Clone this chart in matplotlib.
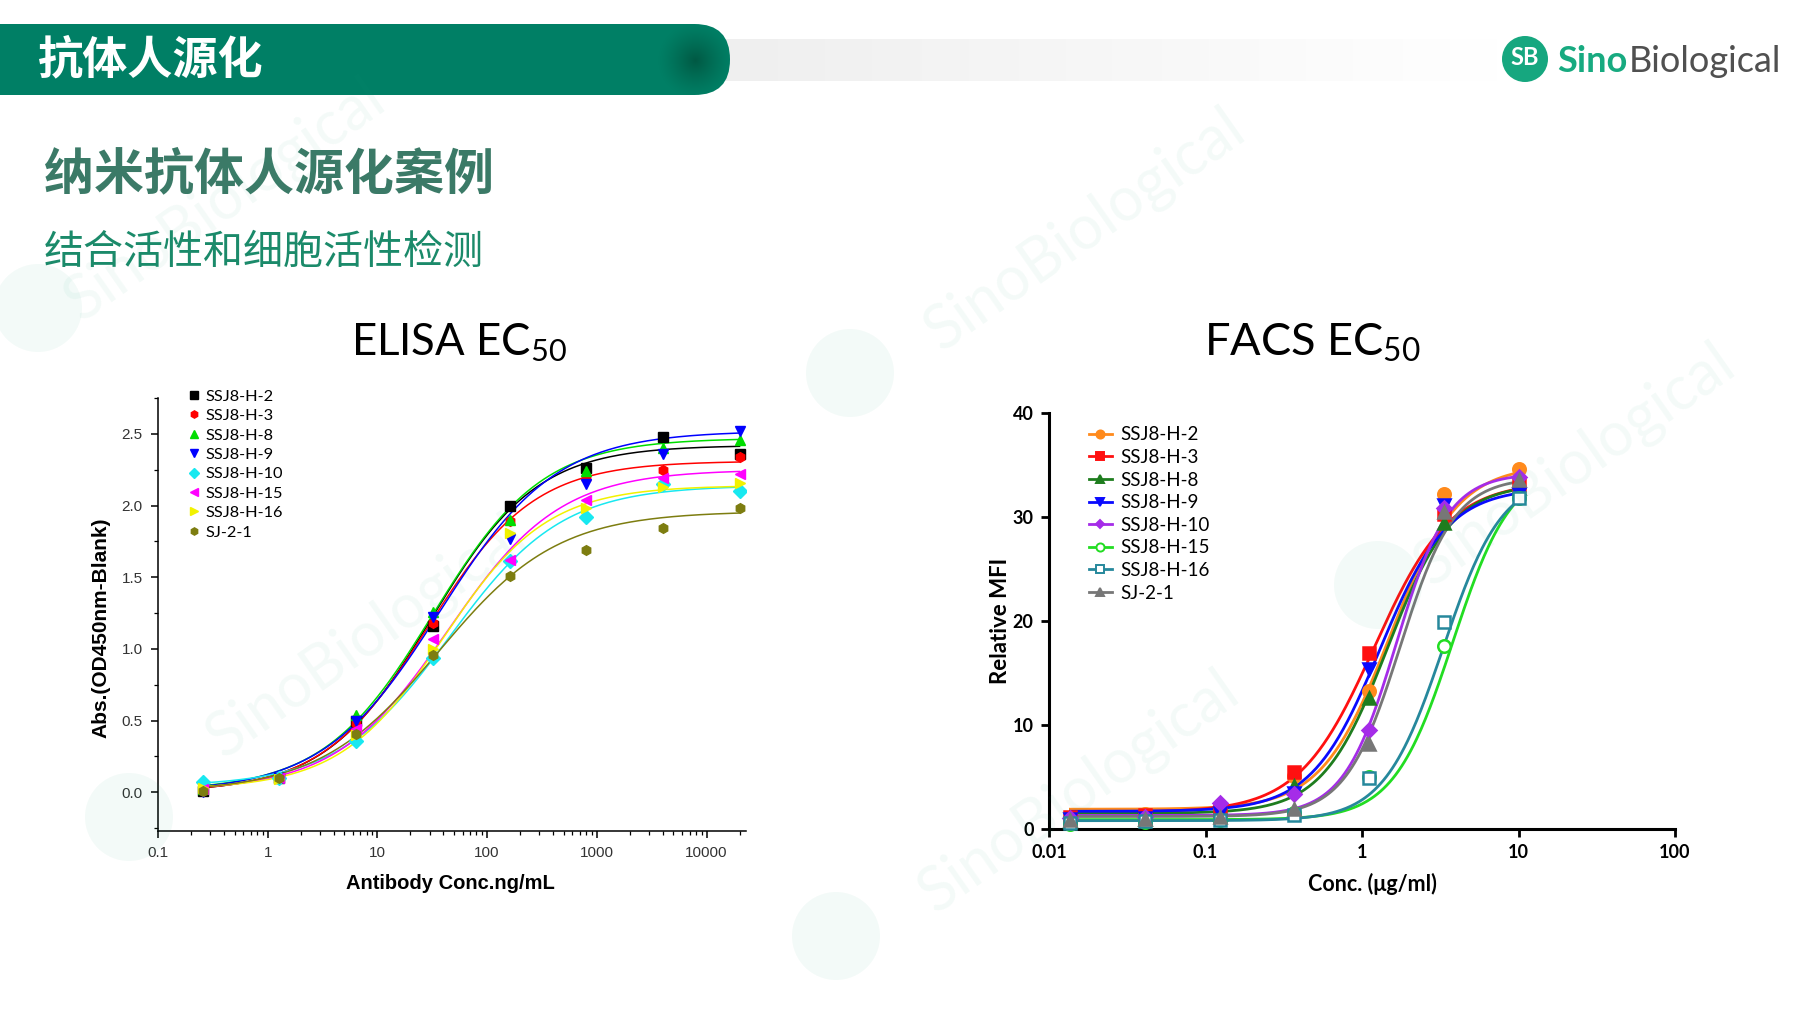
import numpy as np
import matplotlib.pyplot as plt
from matplotlib.patches import FancyBboxPatch, Circle
from matplotlib.ticker import FixedLocator, LogLocator, MultipleLocator, NullFormatter

plt.rcParams['font.family'] = ['Noto Sans CJK SC', 'DejaVu Sans']
plt.rcParams['mathtext.default'] = 'regular'

# ---- ELISA data (ng/mL, 5-fold dilution) ----
elisa_conc = [0.256, 1.28, 6.4, 32, 160, 800, 4000, 20000]
elisa_h2 = [0.01, 0.10, 0.50, 1.16, 2.00, 2.26, 2.48, 2.36]
elisa_h3 = [0.01, 0.10, 0.48, 1.18, 1.89, 2.19, 2.25, 2.34]
elisa_h8 = [0.02, 0.11, 0.54, 1.26, 1.90, 2.24, 2.40, 2.46]
elisa_h9 = [0.00, 0.10, 0.50, 1.22, 1.77, 2.15, 2.36, 2.52]
elisa_h10 = [0.07, 0.10, 0.36, 0.94, 1.61, 1.92, 2.15, 2.10]
elisa_h15 = [0.02, 0.10, 0.44, 1.07, 1.62, 2.04, 2.19, 2.22]
elisa_h16 = [0.03, 0.09, 0.40, 1.00, 1.81, 1.98, 2.13, 2.16]
elisa_sj = [0.01, 0.10, 0.41, 0.96, 1.51, 1.69, 1.84, 1.98]
# 4PL fit: bottom, top, EC50, hill
elisa_fit = [(0.0, 2.42, 31, 0.9), (0.0, 2.31, 29, 0.9), (0.01, 2.47, 32, 0.87),
             (0.0, 2.52, 37, 0.82), (0.04, 2.14, 46, 0.85), (0.01, 2.25, 44, 0.85),
             (0.02, 2.14, 40, 0.92), (0.0, 1.96, 36, 0.8)]

# ---- FACS data (ug/ml, 3-fold dilution) ----
facs_conc = [0.0137, 0.041, 0.123, 0.37, 1.11, 3.33, 10]
facs_h2 = [1.0, 1.4, 2.1, 5.1, 13.3, 32.2, 34.6]
facs_h3 = [1.2, 1.3, 1.8, 5.5, 16.9, 30.3, 33.1]
facs_h8 = [0.8, 1.0, 1.4, 4.1, 12.6, 29.4, 32.8]
facs_h9 = [1.0, 1.1, 1.5, 3.5, 15.4, 31.2, 32.2]
facs_h10 = [1.1, 1.2, 2.5, 3.4, 9.5, 30.9, 33.8]
facs_h15 = [0.5, 0.7, 0.9, 1.5, 5.0, 17.6, 31.8]
facs_h16 = [0.6, 0.8, 0.9, 1.3, 4.9, 19.9, 31.8]
facs_sj = [0.9, 1.0, 1.2, 1.9, 8.2, 30.5, 33.6]
facs_fit = [(1.9, 35.0, 1.5, 2.0), (1.6, 33.4, 1.2, 1.8), (1.5, 33.2, 1.45, 2.1),
            (1.7, 32.8, 1.3, 2.0), (1.3, 34.2, 1.65, 2.6), (0.9, 35.0, 3.8, 2.3),
            (0.8, 34.0, 3.3, 2.3), (1.2, 33.8, 1.75, 2.5)]

names_elisa = ['SSJ8-H-2', 'SSJ8-H-3', 'SSJ8-H-8', 'SSJ8-H-9', 'SSJ8-H-10',
               'SSJ8-H-15', 'SSJ8-H-16', 'SJ-2-1']
names_facs = names_elisa

elisa_vals = [elisa_h2, elisa_h3, elisa_h8, elisa_h9, elisa_h10, elisa_h15, elisa_h16, elisa_sj]
facs_vals = [facs_h2, facs_h3, facs_h8, facs_h9, facs_h10, facs_h15, facs_h16, facs_sj]

elisa_colors = ['#000000', '#ff0000', '#00dd00', '#0000ff', '#18e8f0', '#ff00ff', '#f2f200', '#7d7d10']
elisa_markers = ['s', 'h', '^', 'v', 'D', '<', '>', 'h']
facs_colors = ['#ff8a1c', '#ff1010', '#1e7d1e', '#0a0aff', '#a52ce8', '#22dd22', '#26889c', '#777777']
facs_markers = ['o', 's', '^', 'v', 'D', 'o', 's', '^']
facs_open = [False, False, False, False, False, True, True, False]


def logistic(x, bottom, top, ec50, hill):
    return bottom + (top - bottom) / (1 + (ec50 / x) ** hill)


fig = plt.figure(figsize=(18, 10.13), dpi=100)

# background layer in pixel coordinates
bg = fig.add_axes([0, 0, 1, 1], zorder=0)
bg.set_xlim(0, 1800)
bg.set_ylim(1013, 0)
bg.axis('off')

# grey band fading to white
grad = np.linspace(0, 1, 256)[None, :]
grey = np.ones((1, 256, 3)) * (0.935 + 0.065 * grad[..., None])
bg.imshow(grey, extent=(700, 1500, 81, 39), aspect='auto', zorder=1)

# green header bar with rounded end
bar = FancyBboxPatch((-60, 24), 790, 71, boxstyle='round,pad=0,rounding_size=35.5',
                     fc='#007f65', ec='none', zorder=2)
bg.add_patch(bar)
yy, xx = np.mgrid[0:80, 0:80]
r = np.hypot(xx - 40, yy - 40) / 38.0
shade = np.zeros((80, 80, 4))
shade[..., 1] = 0.30
shade[..., 2] = 0.22
shade[..., 3] = 0.75 * np.clip(1 - r, 0, 1) ** 1.3
im = bg.imshow(shade, extent=(655, 735, 100, 20), aspect='auto', zorder=3)
im.set_clip_path(bar)

bg.text(38, 60, '抗体人源化', color='white', fontsize=32.5, fontweight='bold',
        va='center', ha='left', zorder=4)
bg.text(44, 175, '纳米抗体人源化案例', color='#3b7a67', fontsize=36, fontweight='bold',
        va='center', ha='left')
bg.text(44, 253, '结合活性和细胞活性检测', color='#1b8a6a', fontsize=28.8,
        va='center', ha='left')

# logo
bg.add_patch(Circle((1525, 59), 23, fc='#16a77f', ec='none', zorder=4))
bg.text(1525, 57, 'SB', color='white', fontsize=17, fontweight='bold', ha='center',
        va='center', family=['Lato', 'DejaVu Sans'], zorder=5)
sino = bg.text(1557, 72, 'Sino', color='#17aa80', fontsize=26, fontweight='bold',
               ha='left', va='baseline', family=['Lato', 'DejaVu Sans'])
bg.annotate('Biological', xy=(1, 0), xycoords=sino, xytext=(1, 0), textcoords='offset points',
            color='#505050', fontsize=26, ha='left', va='bottom', family=['Lato', 'DejaVu Sans'])

# chart titles
bg.text(459, 343, 'ELISA EC$_{50}$', fontsize=31.5, ha='center', va='center',
        family=['Lato', 'DejaVu Sans'])
bg.text(1312, 343, 'FACS EC$_{50}$', fontsize=32.5, ha='center', va='center',
        family=['Lato', 'DejaVu Sans'])

# ---- ELISA plot ----
ax1 = fig.add_axes([158 / 1800, 1 - 831 / 1013, 588 / 1800, 433 / 1013], zorder=2)
ax1.set_facecolor('none')
xs = np.logspace(np.log10(elisa_conc[0]), np.log10(elisa_conc[-1]), 300)
for name, vals, fit, c, m in zip(names_elisa, elisa_vals, elisa_fit, elisa_colors, elisa_markers):
    ax1.plot(xs, logistic(xs, *fit), color=c, lw=1.1, zorder=2)
    ax1.plot(elisa_conc, vals, ls='none', marker=m, color=c, ms=7, mec=c, label=name, zorder=3)
ax1.set_xscale('log')
ax1.set_xlim(0.1, 22900)
ax1.set_ylim(-0.27, 2.75)
for s in ['top', 'right']:
    ax1.spines[s].set_visible(False)
for s in ['left', 'bottom']:
    ax1.spines[s].set_linewidth(1.1)
ax1.xaxis.set_major_locator(FixedLocator([0.1, 1, 10, 100, 1000, 10000]))
ax1.set_xticklabels(['0.1', '1', '10', '100', '1000', '10000'])
ax1.xaxis.set_minor_locator(LogLocator(base=10, subs=np.arange(2, 10)))
ax1.xaxis.set_minor_formatter(NullFormatter())
ax1.yaxis.set_major_locator(FixedLocator([0, 0.5, 1.0, 1.5, 2.0, 2.5]))
ax1.set_yticklabels(['0.0', '0.5', '1.0', '1.5', '2.0', '2.5'])
ax1.yaxis.set_minor_locator(MultipleLocator(0.25))
ax1.tick_params(which='major', direction='out', length=5, width=1.1, labelsize=11,
                labelcolor='#333333', pad=6)
ax1.tick_params(which='minor', direction='out', length=3, width=0.9)
for lb in ax1.get_xticklabels() + ax1.get_yticklabels():
    lb.set_family(['Liberation Sans', 'DejaVu Sans'])
ax1.text(0.498, -0.122, 'Antibody Conc.ng/mL', transform=ax1.transAxes, ha='center',
         va='center', fontsize=14.5, fontweight='bold', family=['Liberation Sans', 'DejaVu Sans'])
ax1.text(-0.097, 0.469, 'Abs.(OD450nm-Blank)', transform=ax1.transAxes, ha='center',
         va='center', rotation=90, fontsize=15, fontweight='bold',
         family=['Liberation Sans', 'DejaVu Sans'])
ax1.legend(loc='upper left', bbox_to_anchor=(0.047, 1.02), frameon=False,
           prop={'family': ['Lato', 'DejaVu Sans'], 'size': 11.8},
           handletextpad=0.2, labelspacing=0.3, handlelength=1.0,
           markerscale=0.75, borderaxespad=0, borderpad=0)

# ---- FACS plot ----
ax2 = fig.add_axes([1049 / 1800, 1 - 829 / 1013, 626 / 1800, 416 / 1013], zorder=2)
ax2.set_facecolor('none')
xs2 = np.logspace(np.log10(facs_conc[0]), np.log10(facs_conc[-1]), 300)
for name, vals, fit, c, m, op in zip(names_facs, facs_vals, facs_fit, facs_colors,
                                     facs_markers, facs_open):
    fc = 'white' if op else c
    size = 7 if m == 'D' else 9
    ax2.plot(xs2, logistic(xs2, *fit), color=c, lw=2.0, zorder=2)
    ax2.plot(facs_conc, vals, color=c, ls='none', marker=m, ms=size, mfc=fc, mec=c,
             mew=1.8, zorder=3, clip_on=False)
    ax2.plot([], [], color=c, lw=2.0, marker=m, ms=size * 0.65, mfc=fc, mec=c, mew=1.4,
             label=name)
ax2.set_xscale('log')
ax2.set_xlim(0.01, 100)
ax2.set_ylim(0, 40)
for s in ['top', 'right']:
    ax2.spines[s].set_visible(False)
for s in ['left', 'bottom']:
    ax2.spines[s].set_linewidth(2.2)
ax2.xaxis.set_major_locator(FixedLocator([0.01, 0.1, 1, 10, 100]))
ax2.set_xticklabels(['0.01', '0.1', '1', '10', '100'])
ax2.xaxis.set_minor_locator(FixedLocator([]))
ax2.yaxis.set_major_locator(FixedLocator([0, 10, 20, 30, 40]))
ax2.set_yticklabels(['0', '10', '20', '30', '40'])
ax2.tick_params(which='major', direction='out', length=6, width=2.0, labelsize=13, pad=5)
for lb in ax2.get_xticklabels() + ax2.get_yticklabels():
    lb.set_family(['Lato', 'DejaVu Sans'])
    lb.set_fontweight('bold')
ax2.text(0.516, -0.132, 'Conc. (μg/ml)', transform=ax2.transAxes, ha='center',
         va='center', fontsize=15.5, fontweight='bold', family=['Lato', 'DejaVu Sans'])
ax2.text(-0.077, 0.5, 'Relative MFI', transform=ax2.transAxes, ha='center', va='center',
         rotation=90, fontsize=16, fontweight='bold', family=['Lato', 'DejaVu Sans'])
ax2.legend(loc='upper left', bbox_to_anchor=(0.064, 0.968), frameon=False,
           prop={'family': ['Lato', 'DejaVu Sans'], 'size': 13.5},
           handletextpad=0.45, labelspacing=0.3, handlelength=1.2,
           borderaxespad=0, borderpad=0)

# faint watermarks on top
wm = fig.add_axes([0, 0, 1, 1], zorder=5)
wm.set_xlim(0, 1800)
wm.set_ylim(1013, 0)
wm.axis('off')
wm_text = [(1085, 230), (1575, 465), (1079, 792), (367, 637), (225, 200)]
wm_circle = [(850, 373), (1378, 585), (836, 936), (129, 817), (38, 308)]
for (tx, ty), (cx, cy) in zip(wm_text, wm_circle):
    wm.text(tx, ty, 'SinoBiological', fontsize=44, rotation=35, ha='center', va='center',
            color='#1aa57c', alpha=0.05, family=['Lato', 'DejaVu Sans'])
    wm.add_patch(Circle((cx, cy), 44, fc='#1aa57c', ec='none', alpha=0.05))

fig.savefig('out.png', dpi=100)
